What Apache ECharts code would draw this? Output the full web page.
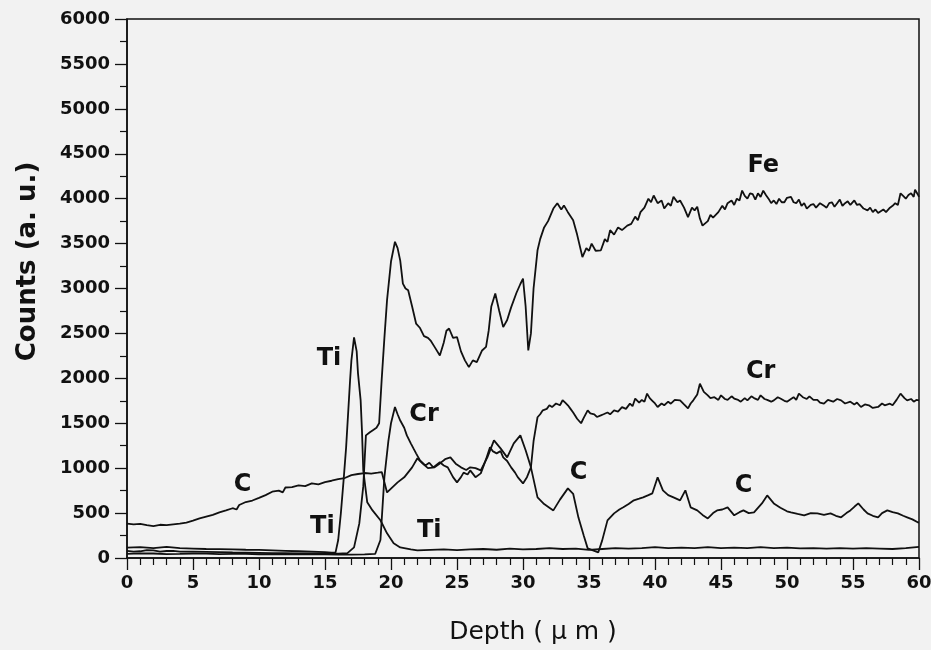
<!DOCTYPE html>
<html>
<head>
<meta charset="utf-8">
<script src="https://cdn.jsdelivr.net/npm/echarts@6/dist/echarts.min.js"></script>
<style>
html, body { margin: 0; padding: 0; background: #f2f2f2; }
#chart { width: 931px; height: 650px; }
</style>
</head>
<body>
<div id="chart"></div>
<script>
// depth (um), counts (a.u.)
var fe = [[0,80],[0.5,70],[1,75],[1.5,88],[2,85],[2.5,72],[3,78],[3.5,80],[4,72],[5,70],[6,68],[7,65],[8,62],[9,60],[10,58],[11,55],[12,55],[13,52],[14,50],[15,50],[16,48],[16.7,55],[17.2,118],[17.6,385],[17.9,800],[18.1,1365],[18.4,1400],[18.6,1420],[18.9,1450],[19.1,1500],[19.3,2000],[19.5,2450],[19.7,2870],[20.0,3300],[20.3,3520],[20.5,3450],[20.7,3310],[20.9,3055],[21.1,3000],[21.3,2980],[21.6,2800],[21.9,2610],[22.2,2560],[22.5,2470],[22.8,2450],[23.0,2420],[23.3,2350],[23.7,2255],[24.0,2400],[24.2,2530],[24.4,2555],[24.7,2450],[25.0,2460],[25.3,2300],[25.6,2200],[25.9,2125],[26.2,2200],[26.5,2180],[26.9,2310],[27.2,2350],[27.4,2530],[27.6,2800],[27.9,2945],[28.2,2750],[28.5,2570],[28.8,2650],[29.1,2790],[29.5,2950],[29.8,3050],[30.0,3110],[30.2,2800],[30.4,2310],[30.6,2500],[30.8,3000],[31.1,3425],[31.3,3550],[31.6,3680],[31.9,3750],[32.1,3820],[32.3,3890],[32.6,3950],[32.9,3880],[33.1,3925],[33.4,3850],[33.8,3760],[34.1,3600],[34.5,3350],[34.8,3450],[35.0,3420],[35.2,3500],[35.5,3420],[35.9,3425],[36.2,3550],[36.4,3520],[36.6,3650],[36.9,3600],[37.2,3680],[37.5,3650],[37.9,3700],[38.2,3720],[38.5,3800],[38.7,3760],[38.9,3850],[39.2,3900],[39.5,4000],[39.7,3960],[39.9,4035],[40.2,3950],[40.5,3980],[40.7,3890],[41.0,3950],[41.2,3920],[41.4,4020],[41.7,3960],[41.9,3980],[42.2,3900],[42.5,3795],[42.8,3900],[43.0,3870],[43.2,3910],[43.4,3780],[43.6,3700],[44.0,3750],[44.2,3820],[44.4,3790],[44.8,3850],[45.1,3920],[45.3,3880],[45.5,3950],[45.8,3980],[46.0,3930],[46.2,4000],[46.4,3980],[46.6,4090],[46.8,4030],[47.0,4000],[47.2,4060],[47.4,4050],[47.6,3990],[47.8,4060],[48.0,4020],[48.2,4090],[48.4,4040],[48.6,4000],[48.8,3950],[49.0,3980],[49.2,3940],[49.4,4000],[49.6,3960],[49.8,3960],[50.0,4010],[50.3,4020],[50.5,3960],[50.7,3950],[50.9,3990],[51.1,3920],[51.3,3950],[51.5,3890],[51.8,3930],[52.0,3940],[52.2,3900],[52.5,3950],[52.8,3920],[53.0,3900],[53.2,3950],[53.4,3960],[53.6,3910],[53.8,3950],[54.0,3990],[54.2,3920],[54.4,3950],[54.6,3970],[54.8,3930],[55.1,3980],[55.3,3930],[55.5,3940],[55.8,3890],[56.1,3870],[56.3,3900],[56.5,3850],[56.7,3880],[56.9,3840],[57.1,3860],[57.3,3880],[57.5,3850],[57.8,3900],[58.0,3920],[58.2,3950],[58.4,3930],[58.6,4060],[58.8,4030],[59.0,4000],[59.2,4040],[59.4,4060],[59.6,4020],[59.7,4100],[59.9,4050],[60,4020]];

var cr = [[0,45],[1,52],[2,50],[3,44],[4,45],[5,50],[6,48],[7,44],[8,45],[9,46],[10,42],[11,44],[12,42],[13,40],[14,40],[15,42],[16,38],[17,38],[18,40],[18.8,45],[19.2,200],[19.5,900],[19.8,1300],[20.0,1500],[20.3,1680],[20.5,1600],[20.7,1530],[21.0,1450],[21.2,1365],[21.5,1276],[21.7,1220],[21.9,1165],[22.2,1087],[22.6,1031],[22.9,1060],[23.2,1009],[23.7,1065],[24.0,1030],[24.3,1009],[24.7,900],[25.0,842],[25.3,900],[25.5,950],[25.8,930],[26.0,975],[26.4,900],[26.8,942],[27.0,1020],[27.2,1100],[27.5,1232],[27.7,1190],[28.0,1165],[28.3,1190],[28.5,1120],[28.8,1080],[29.1,1009],[29.4,950],[29.6,900],[30.0,830],[30.3,900],[30.6,1009],[30.8,1300],[31.1,1567],[31.3,1600],[31.5,1644],[31.8,1660],[32.0,1700],[32.2,1680],[32.5,1720],[32.8,1700],[33.0,1756],[33.2,1730],[33.4,1700],[33.6,1660],[33.8,1620],[34.1,1550],[34.4,1500],[34.6,1560],[34.9,1644],[35.1,1610],[35.4,1600],[35.6,1570],[35.9,1588],[36.1,1600],[36.4,1620],[36.6,1600],[36.9,1644],[37.2,1630],[37.5,1680],[37.8,1660],[38.1,1718],[38.3,1690],[38.5,1775],[38.8,1730],[39.0,1760],[39.2,1740],[39.4,1830],[39.6,1780],[39.8,1750],[40.0,1720],[40.2,1681],[40.5,1720],[40.7,1700],[41.0,1740],[41.2,1718],[41.5,1760],[41.9,1755],[42.2,1710],[42.5,1666],[42.7,1720],[42.9,1755],[43.2,1820],[43.4,1940],[43.7,1850],[44.0,1811],[44.2,1780],[44.5,1790],[44.8,1760],[45.0,1811],[45.3,1770],[45.5,1760],[45.8,1800],[46.0,1775],[46.3,1760],[46.5,1740],[46.8,1780],[47.0,1755],[47.3,1800],[47.5,1780],[47.8,1760],[48.0,1811],[48.3,1770],[48.5,1760],[48.8,1740],[49.0,1755],[49.3,1790],[49.5,1775],[49.8,1750],[50.0,1740],[50.3,1770],[50.5,1790],[50.7,1760],[50.9,1830],[51.2,1790],[51.5,1770],[51.7,1800],[52.0,1760],[52.3,1760],[52.5,1730],[52.8,1718],[53.1,1760],[53.5,1740],[53.8,1770],[54.1,1755],[54.4,1720],[54.8,1740],[55.1,1710],[55.3,1730],[55.6,1681],[55.9,1710],[56.2,1700],[56.5,1670],[56.9,1681],[57.2,1720],[57.4,1700],[57.8,1718],[58.0,1700],[58.3,1760],[58.6,1830],[58.9,1780],[59.1,1755],[59.4,1770],[59.6,1740],[59.8,1760],[60,1755]];

var carbon = [[0,383],[0.5,375],[1,380],[1.5,365],[2,355],[2.5,370],[3,365],[3.5,375],[4,383],[4.5,395],[5,415],[5.5,440],[6,460],[6.5,480],[7,508],[7.5,530],[8,554],[8.3,540],[8.5,590],[9,623],[9.5,640],[10,669],[10.5,700],[11,738],[11.5,750],[11.8,730],[12,785],[12.5,790],[13,808],[13.5,800],[14,830],[14.5,820],[15,845],[15.5,860],[16,877],[16.5,890],[17,923],[17.5,935],[18,946],[18.5,940],[19,950],[19.3,957],[19.7,730],[20.1,786],[20.5,842],[21,898],[21.6,1009],[22.0,1110],[22.4,1050],[22.8,1000],[23.3,1009],[23.7,1053],[24.1,1100],[24.5,1120],[24.9,1050],[25.3,1009],[25.7,980],[26.0,1009],[26.4,1000],[26.8,975],[27.3,1120],[27.8,1310],[28.3,1220],[28.8,1120],[29.3,1276],[29.8,1365],[30.2,1200],[30.6,1009],[31.1,675],[31.6,600],[32.0,560],[32.3,530],[32.8,650],[33.4,775],[33.8,715],[34.2,450],[34.6,250],[34.9,107],[35.3,85],[35.7,62],[36.0,196],[36.4,419],[36.9,497],[37.3,540],[37.6,564],[38.0,600],[38.4,642],[38.8,660],[39.1,675],[39.5,700],[39.8,720],[40.2,898],[40.6,753],[41.0,700],[41.4,675],[41.9,642],[42.3,753],[42.7,564],[43.2,530],[43.6,480],[44.0,441],[44.4,500],[44.7,530],[45.1,540],[45.5,564],[46.0,475],[46.4,510],[46.7,530],[47.1,500],[47.5,508],[48.1,608],[48.5,697],[49.0,608],[49.5,560],[50.0,520],[50.3,508],[50.8,490],[51.3,475],[51.8,500],[52.3,497],[52.8,480],[53.3,497],[53.7,470],[54.1,453],[54.5,500],[54.8,530],[55.1,570],[55.4,608],[55.8,540],[56.1,497],[56.5,470],[56.9,453],[57.2,500],[57.6,530],[58.0,510],[58.4,497],[58.8,470],[59.1,453],[59.5,430],[59.9,397],[60,395]];

var ti = [[0,115],[1,120],[2,110],[3,125],[4,110],[5,105],[6,100],[7,98],[8,95],[9,92],[10,90],[11,85],[12,80],[13,75],[14,70],[15,65],[15.5,60],[15.8,62],[16.0,200],[16.2,497],[16.4,850],[16.6,1232],[16.9,1978],[17.0,2200],[17.2,2455],[17.4,2300],[17.5,2055],[17.7,1755],[17.8,1420],[17.9,975],[18.2,620],[18.6,530],[19.2,420],[19.7,275],[20.2,163],[20.7,118],[21.5,95],[22,85],[23,90],[24,95],[25,88],[26,95],[27,100],[28,92],[29,105],[30,95],[31,100],[32,110],[33,100],[34,105],[35,90],[36,100],[37,110],[38,105],[39,110],[40,120],[41,110],[42,115],[43,110],[44,120],[45,110],[46,115],[47,110],[48,120],[49,110],[50,115],[51,108],[52,110],[53,105],[54,110],[55,105],[56,110],[57,105],[58,100],[59,110],[60,125]];

// curve labels: [depth, counts, text]
var tags = [[48.2,4370,'Fe'],[48.0,2070,'Cr'],[22.5,1590,'Cr'],[8.75,810,'C'],[34.2,950,'C'],[46.7,800,'C'],[15.3,2220,'Ti'],[14.8,350,'Ti'],[22.9,300,'Ti']];

var xTicks = [0, 60, 5];
var yTicks = [0, 6000, 500];

var chart = echarts.init(document.getElementById('chart'));
var ink = '#111';
var font = 'DejaVu Sans';

function profile(name, data) {
    return {
        name: name,
        type: 'line',
        data: data,
        showSymbol: false,
        animation: false,
        lineStyle: { color: ink, width: 1.8 }
    };
}

option = {
    backgroundColor: '#f2f2f2',
    grid: {
        left: 127, right: 12, top: 19, bottom: 92,
        outerBoundsMode: 'none',
        show: true, borderColor: ink, borderWidth: 1.5
    },
    xAxis: {
        type: 'value',
        min: xTicks[0], max: xTicks[1], interval: xTicks[2],
        name: 'Depth ( \u03bc m )',
        nameLocation: 'middle',
        nameGap: 62,
        nameTextStyle: { fontFamily: font, fontSize: 25, color: ink, padding: [0, 0, 0, 20] },
        axisLine: { show: true, lineStyle: { color: ink, width: 1.5 } },
        axisTick: { show: true, inside: false, length: 12, lineStyle: { color: ink, width: 1.3 } },
        minorTick: { show: true, splitNumber: 5, length: 7, lineStyle: { color: ink, width: 1.2 } },
        axisLabel: { margin: 16, fontFamily: font, fontSize: 18, fontWeight: 'bold', color: ink },
        splitLine: { show: false }
    },
    yAxis: {
        type: 'value',
        min: yTicks[0], max: yTicks[1], interval: yTicks[2],
        name: 'Counts (a. u.)',
        nameLocation: 'middle',
        nameRotate: 90,
        nameGap: 86,
        nameTextStyle: { fontFamily: font, fontSize: 26, fontWeight: 'bold', color: ink, padding: [0, 0, 0, 54] },
        axisLine: { show: true, lineStyle: { color: ink, width: 1.5 } },
        axisTick: { show: true, inside: false, length: 12, lineStyle: { color: ink, width: 1.3 } },
        minorTick: { show: true, splitNumber: 2, length: 7, lineStyle: { color: ink, width: 1.2 } },
        axisLabel: {
            margin: 17, fontFamily: font, fontSize: 18, fontWeight: 'bold', color: ink,
            formatter: function (v) { return String(v); }
        },
        splitLine: { show: false }
    },
    series: [
        profile('Fe', fe),
        profile('Cr', cr),
        profile('C', carbon),
        profile('Ti', ti),
        {
            type: 'scatter',
            data: tags,
            symbolSize: 0,
            animation: false,
            silent: true,
            itemStyle: { opacity: 1 },
            label: {
                show: true,
                position: 'inside',
                formatter: function (p) { return p.data[2]; },
                fontFamily: font, fontSize: 24, fontWeight: 'bold', color: ink, opacity: 1
            }
        }
    ]
};

chart.setOption(option);
</script>
</body>
</html>
